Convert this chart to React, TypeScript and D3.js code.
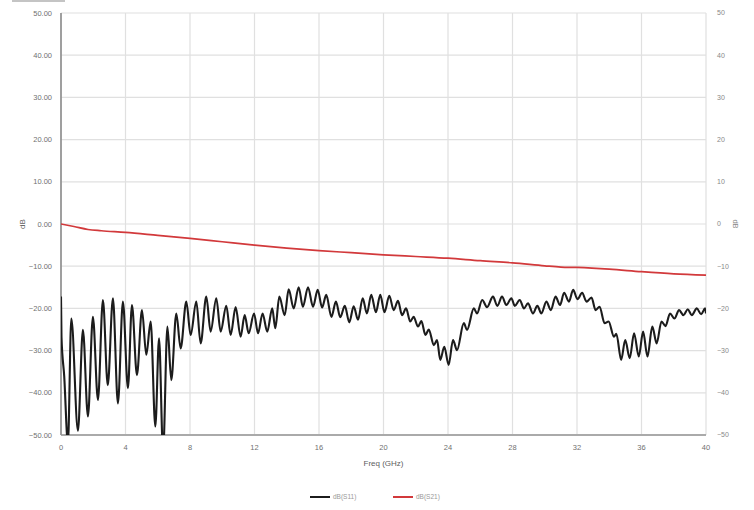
import React from "react";
import * as d3 from "d3";

const xTicks = [0, 4, 8, 12, 16, 20, 24, 28, 32, 36, 40];
const yTicks = [50, 40, 30, 20, 10, 0, -10, -20, -30, -40, -50];
const seriesNames = ["dB(S11)", "dB(S21)"];
const seriesColors = ["#1c1c1c", "#d2393b"];

const s11: [number, number][] = [
  [0, -17.2], [0.03, -26.7], [0.2, -36.1], [0.43, -52], [0.64, -22.4], [1.05, -49], [1.36, -25.1],
  [1.67, -45.6], [1.98, -22], [2.29, -41.7], [2.6, -18], [2.9, -38.2], [3.22, -17.6], [3.53, -42.5],
  [3.84, -18.4], [4.15, -38.9], [4.4, -19.2], [4.71, -35.8], [5.02, -20.4], [5.29, -31], [5.56, -23.1],
  [5.85, -48], [6.08, -27.1], [6.33, -54], [6.6, -24.3], [6.84, -37], [7.15, -21.2], [7.42, -29.5],
  [7.77, -18.4], [8.04, -26.3], [8.39, -18.4], [8.66, -28.3], [9.01, -17.2], [9.28, -25.5], [9.63, -17.6],
  [9.9, -25.5], [10.25, -19.4], [10.52, -26.3], [10.83, -19.7], [11.14, -26.7], [11.39, -21.6],
  [11.64, -25.9], [11.97, -21.2], [12.22, -25.9], [12.5, -21.2], [12.79, -25.5], [13.1, -20],
  [13.29, -24.7], [13.54, -17.2], [13.87, -21.6], [14.12, -15.5], [14.43, -20], [14.74, -15],
  [15.0, -19.6], [15.32, -15], [15.63, -19.6], [15.92, -15.6], [16.19, -19.8], [16.45, -16.8],
  [16.77, -22], [17.05, -18.4], [17.32, -22.1], [17.6, -19.4], [17.88, -23.3], [18.15, -19.5],
  [18.42, -22.7], [18.71, -17.6], [18.97, -21.2], [19.24, -16.8], [19.53, -20.9], [19.8, -16.8],
  [20.06, -20.9], [20.36, -17], [20.63, -20.4], [20.9, -18.2], [21.15, -21.6], [21.4, -20],
  [21.66, -23.1], [21.87, -22], [22.14, -24.3], [22.35, -23], [22.6, -26.3], [22.81, -25],
  [23.12, -28.7], [23.32, -27.5], [23.52, -32.2], [23.77, -29.1], [24.04, -33.4], [24.31, -27.5],
  [24.56, -29.9], [24.98, -23.5], [25.18, -25.1], [25.6, -20], [25.8, -21.2], [26.12, -18],
  [26.42, -19.7], [26.79, -17.2], [27.06, -19.4], [27.35, -17.2], [27.62, -19.2], [27.93, -17.6],
  [28.14, -19.4], [28.45, -18], [28.71, -20], [28.96, -18.8], [29.27, -21.2], [29.54, -19.4],
  [29.79, -21.2], [30.1, -18.4], [30.38, -20.4], [30.67, -17.2], [30.95, -19.2], [31.2, -16.3],
  [31.5, -18.4], [31.76, -15.6], [32.03, -17.8], [32.32, -16.3], [32.59, -18.4], [32.9, -17.4],
  [33.15, -20.4], [33.4, -19.6], [33.71, -23.5], [33.96, -23.1], [34.29, -26.7], [34.44, -26],
  [34.74, -32.2], [34.99, -27.5], [35.27, -31.8], [35.54, -25.9], [35.83, -31.4], [36.1, -25.5],
  [36.37, -31.4], [36.67, -24.3], [36.94, -28.3], [37.24, -23.1], [37.49, -24.2], [37.77, -21.2],
  [38.04, -22.4], [38.33, -20.4], [38.6, -21.6], [38.87, -20.2], [39.12, -21.6], [39.43, -20],
  [39.7, -21.4], [39.94, -20], [40, -21.2],
];

const s21: [number, number][] = [
  [0, 0], [0.8, -0.6], [1.67, -1.3], [2.5, -1.6], [4, -2], [6, -2.7], [8, -3.4], [10, -4.2],
  [12, -5], [14, -5.7], [16, -6.3], [18, -6.8], [20, -7.3], [22, -7.7], [24, -8.1], [26, -8.7],
  [28, -9.2], [30, -9.9], [31, -10.2], [32, -10.3], [34, -10.7], [36, -11.3], [38, -11.8], [40, -12.1],
];

const W = 754;
const H = 510;
const M = { left: 61, right: 706, top: 13, bottom: 435 };
const FONT = "'Liberation Sans', Arial, sans-serif";

export default function App() {
  const x = d3.scaleLinear().domain([0, 40]).range([M.left, M.right]);
  const y = d3.scaleLinear().domain([-50, 50]).range([M.bottom, M.top]);
  const line = d3
    .line<[number, number]>()
    .x((d) => x(d[0]))
    .y((d) => y(d[1]))
    .curve(d3.curveMonotoneX);
  const fmtL = d3.format(".2f");
  const fmtR = d3.format("d");
  const midY = (M.top + M.bottom) / 2;

  return (
    <svg
      width={W}
      height={H}
      style={{ position: "absolute", left: 0, top: 0, background: "#fff" }}
      fontFamily={FONT}
    >
      <defs>
        <clipPath id="plot">
          <rect x={M.left} y={M.top - 2} width={M.right - M.left} height={M.bottom - M.top + 2} />
        </clipPath>
      </defs>
      <rect x={12} y={0} width={53} height={2} fill="#c4c4c4" />
      {/* grid */}
      {xTicks.filter((t) => t !== 0).map((t) => (
        <line key={"gx" + t} x1={x(t)} x2={x(t)} y1={M.top} y2={M.bottom} stroke="#e0e0e0" strokeWidth={1.2} />
      ))}
      {yTicks.map((t) => (
        <line key={"gy" + t} x1={M.left} x2={M.right} y1={y(t)} y2={y(t)} stroke="#e0e0e0" strokeWidth={1.2} />
      ))}
      {/* axes */}
      <line x1={M.left} x2={M.right} y1={M.bottom} y2={M.bottom} stroke="#aaaaaa" strokeWidth={1.8} />
      <line x1={M.left} x2={M.left} y1={M.top} y2={M.bottom} stroke="#959595" strokeWidth={1.8} />
      {/* tick labels */}
      {yTicks.map((t) => (
        <text key={"yl" + t} x={52} y={y(t)} dy="0.35em" textAnchor="end" fontSize={7.5} fill="#707070">
          {fmtL(t)}
        </text>
      ))}
      {yTicks.map((t) => (
        <text key={"yr" + t} x={717} y={y(t)} dy="0.35em" textAnchor="start" fontSize={7} fill="#888">
          {fmtR(t)}
        </text>
      ))}
      {xTicks.map((t) => (
        <text key={"xl" + t} x={x(t)} y={447} dy="0.35em" textAnchor="middle" fontSize={7.5} fill="#707070">
          {t}
        </text>
      ))}
      <text x={(M.left + M.right) / 2} y={463} dy="0.35em" textAnchor="middle" fontSize={8} fill="#606060">
        Freq (GHz)
      </text>
      <text transform={`translate(22,${midY}) rotate(-90)`} textAnchor="middle" dy="0.35em" fontSize={8} fill="#606060">
        dB
      </text>
      <text transform={`translate(736,${midY}) rotate(90)`} textAnchor="middle" dy="0.35em" fontSize={7.5} fill="#888">
        dB
      </text>
      {/* series */}
      <g clipPath="url(#plot)">
        <path d={line(s21) ?? ""} fill="none" stroke={seriesColors[1]} strokeWidth={1.7} />
        <path d={line(s11) ?? ""} fill="none" stroke={seriesColors[0]} strokeWidth={2.1} strokeLinejoin="round" />
      </g>
      {/* legend */}
      {seriesNames.map((n, i) => (
        <g key={n} transform={`translate(${310 + i * 83},497)`}>
          <line x1={0} x2={20} y1={0} y2={0} stroke={seriesColors[i]} strokeWidth={2} />
          <text x={23} y={0} dy="0.35em" fontSize={6.5} fill="#999">
            {n}
          </text>
        </g>
      ))}
    </svg>
  );
}
